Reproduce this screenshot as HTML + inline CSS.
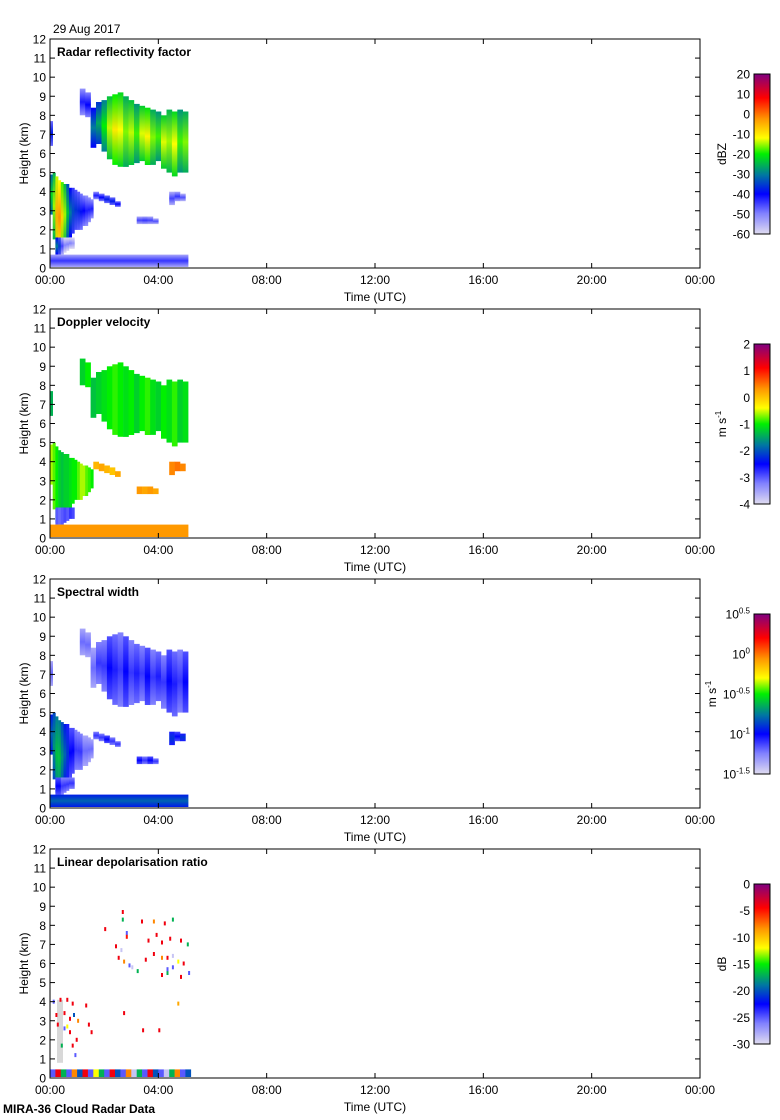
<!DOCTYPE html>
<html><head><meta charset="utf-8"><style>
html,body{margin:0;padding:0;background:#fff;}
svg{display:block;font-family:"Liberation Sans",sans-serif;}
</style></head><body>
<svg id="chart" width="780" height="1120" viewBox="0 0 780 1120" xmlns="http://www.w3.org/2000/svg">
<text x="53" y="33" font-size="12">29 Aug 2017</text>
<text x="3" y="1113" font-size="12" font-weight="bold">MIRA-36 Cloud Radar Data</text>
</svg>
<script>
// ---- data arrays ----
const timeTicks = ["00:00","04:00","08:00","12:00","16:00","20:00","00:00"];
const heightTicks = [0,1,2,3,4,5,6,7,8,9,10,11,12];
const panelTitles = ["Radar reflectivity factor","Doppler velocity","Spectral width","Linear depolarisation ratio"];
const upperT0 = 1.5, upperDt = 0.2;
const upperTop  = [8.4,8.7,8.8,9.0,9.1,9.2,9.0,8.8,8.6,8.5,8.4,8.3,8.2,8.0,8.3,8.2,8.3,8.2];
const upperBase = [6.3,6.5,6.1,5.7,5.4,5.3,5.3,5.4,5.5,5.6,5.4,5.4,5.6,5.2,5.0,4.8,5.0,5.0];
const upperDbz  = [-30,-26,-20,-14,-10,-12,-16,-14,-18,-13,-11,-16,-18,-13,-15,-12,-18,-16];
const upperVel  = [-1.3,-1.2,-1.1,-1.0,-0.9,-1.0,-1.1,-1.0,-1.2,-1.0,-0.9,-1.1,-1.2,-1.0,-1.1,-0.9,-1.2,-1.1];
const upperWid  = [-1.2,-1.1,-1.1,-1.0,-1.05,-1.1,-1.0,-1.1,-1.05,-1.1,-1.0,-1.1,-1.05,-1.1,-1.0,-1.05,-1.1,-1.0];
const highT0 = 1.1, highDt = 0.2;
const highTop = [9.4,9.2], highBase = [8.0,7.9], highDbz = [-42,-40], highVel = [-1.2,-1.0], highWid = [-1.2,-1.2];
const earlyT0 = 0, earlyDt = 0.1;
const earlyTop = [7.7], earlyBase = [6.4], earlyDbz = [-38], earlyVel = [-1.4], earlyWid = [-1.2];
const lowT0 = 0, lowDt = 0.1;
const lowTop  = [4.9,5.0,4.8,4.6,4.5,4.4,4.4,4.2,4.2,4.1,4.0,3.9,3.8,3.8,3.7,3.6];
const lowBase = [2.8,1.5,0.8,0.7,0.8,1.2,1.4,1.6,1.8,2.0,2.0,2.0,2.2,2.2,2.4,2.6];
const lowDbz  = [-22,-15,-4,-2,-8,-15,-24,-30,-34,-36,-37,-39,-40,-42,-42,-42];
const lowVel  = [-0.6,-0.8,-1.0,-1.2,-1.3,-1.2,-1.2,-1.1,-1.0,-1.0,-0.8,-0.6,-0.6,-0.8,-0.9,-1.0];
const lowWid  = [-0.8,-0.7,-0.6,-0.6,-0.7,-0.8,-0.9,-1.0,-1.0,-1.1,-1.1,-1.1,-1.2,-1.2,-1.2,-1.2];
const fallT0 = 0.2, fallDt = 0.1;
const fallTop = [1.6,1.6,1.6,1.6,1.6,1.6,1.6], fallBase = [0.7,0.7,0.7,0.8,0.9,1.0,1.0];
const fallDbz = [-30,-35,-45,-50,-50,-50,-52], fallVel = [-3.0,-3.1,-3.0,-2.9,-3.0,-2.8,-2.9], fallWid = [-1.0,-1.0,-1.1,-1.1,-1.1,-1.1,-1.1];
const bandT0 = 1.6, bandDt = 0.2;
const bandTop = [4.0,3.9,3.8,3.7,3.5], bandBase = [3.6,3.5,3.4,3.3,3.2];
const bandDbz = [-42,-40,-38,-38,-40], bandVel = [0.1,0.2,0.1,0.0,0.2], bandWid = [-1.1,-1.1,-1.0,-1.1,-1.1];
const midT0 = 3.2, midDt = 0.2;
const midTop = [2.7,2.7,2.7,2.6], midBase = [2.3,2.3,2.3,2.3];
const midDbz = [-45,-44,-45,-46], midVel = [0.3,0.2,0.3,0.2], midWid = [-1.0,-1.1,-1.0,-1.1];
const patchT0 = 4.4, patchDt = 0.2;
const patchTop = [4.0,4.0,3.9], patchBase = [3.3,3.5,3.5];
const patchDbz = [-45,-44,-46], patchVel = [0.4,0.5,0.4], patchWid = [-0.9,-1.0,-0.9];
const clutT0 = 0, clutDt = 5.1;
const clutTop = [0.7], clutBase = [0.05], clutDbz = [-44], clutVel = [0.3], clutWid = [-0.8];
const ldrT = [2.65,2.65,3.36,3.8,4.2,4.5,2.0,2.8,2.8,3.6,3.9,4.1,4.4,4.8,5.05,2.4,2.6,2.5,2.7,2.9,3.0,3.2,3.5,3.8,4.1,4.3,4.5,4.7,4.9,4.5,4.1,4.3,4.8,5.1,4.3,4.7,2.7,3.4,4.0,0.1,0.35,0.6,0.8,0.5,0.7,0.85,1.0,1.3,1.4,1.5,0.6,0.5,0.7,0.95,0.4,0.8,0.9,0.25,0.2];
const ldrH = [8.7,8.3,8.2,8.2,8.1,8.3,7.8,7.6,7.4,7.2,7.5,7.1,7.3,7.2,7.0,6.9,6.7,6.3,6.1,5.9,5.8,5.6,6.2,6.5,6.3,6.3,6.4,6.1,6.0,5.8,5.4,5.5,5.3,5.5,5.7,3.9,3.4,2.5,2.5,4.0,4.1,4.1,3.9,3.4,3.1,3.3,3.0,3.8,2.8,2.4,2.7,2.6,2.4,2.0,1.7,1.7,1.2,2.8,3.3];
const ldrV = [-4,-17,-4,-8,-4,-17,-4,-25,-5,-4,-4,-4,-4,-4,-17,-4,-29,-4,-8,-25,-29,-17,-4,-4,-8,-4,-29,-12,-4,-25,-4,-17,-4,-25,-25,-9,-4,-4,-4,-25,-4,-4,-4,-4,-4,-20,-8,-4,-4,-4,-12,-25,-4,-4,-17,-4,-25,-4,-4];
const ldrClutT0 = 0, ldrClutDt = 0.2;
const ldrClutV = [-25,-4,-17,-25,-8,-20,-4,-25,-12,-17,-25,-4,-20,-25,-8,-29,-17,-25,-4,-20,-25,-29,-17,-8,-25,-20];
const ldrGrayT = [0.26], ldrGrayDt = 0.22, ldrGrayBase = [0.8], ldrGrayTop = [4.1];
const cbTicks = [[20,10,0,-10,-20,-30,-40,-50,-60],[2,1,0,-1,-2,-3,-4],["0.5","0","-0.5","-1","-1.5"],[0,-5,-10,-15,-20,-25,-30]];
const cbRange = [[-60,20],[-4,2],[-1.5,0.5],[-30,0]];

// ---- rendering ----
const svg = document.getElementById('chart');
const NS = 'http://www.w3.org/2000/svg';
const PX0 = 50, PX1 = 700, PH = 229;
function panelTop(k){ return 39 + 270*k; }
function xScale(t){ return PX0 + t*(PX1-PX0)/24; }
function yScale(k,h){ return panelTop(k) + PH - h*PH/12; }
const stops = [[0,[224,220,240]],[0.13,[128,128,255]],[0.25,[0,0,255]],[0.37,[0,120,160]],[0.5,[0,240,0]],[0.6,[255,255,0]],[0.72,[255,150,0]],[0.85,[255,0,0]],[1,[128,0,128]]];
function cmap(f){
  f = Math.max(0,Math.min(1,f));
  for(let i=1;i<stops.length;i++){
    if(f<=stops[i][0]){
      const a=stops[i-1],b=stops[i],u=(f-a[0])/(b[0]-a[0]);
      const c=a[1].map((v,j)=>Math.round(v+(b[1][j]-v)*u));
      return 'rgb('+c.join(',')+')';
    }
  }
  return 'rgb(128,0,128)';
}
function mk(tag, attrs, parent){
  const e = document.createElementNS(NS, tag);
  for(const k in attrs) e.setAttribute(k, attrs[k]);
  (parent||svg).appendChild(e);
  return e;
}
const defs = mk('defs',{});
let gid = 0;
function gradFor(cTop, cMid, cBot){
  const g = mk('linearGradient',{id:'g'+(gid++),x1:0,y1:0,x2:0,y2:1},defs);
  mk('stop',{offset:'0','stop-color':cTop},g);
  mk('stop',{offset:'0.5','stop-color':cMid},g);
  mk('stop',{offset:'1','stop-color':cBot},g);
  return 'url(#'+g.id+')';
}
function drawLayer(k, grp, t0, dt, base, top, vals, range, edge){
  for(let i=0;i<vals.length;i++){
    const x = xScale(t0+i*dt), w = xScale(t0+(i+1)*dt)-x;
    const yT = yScale(k, top[i]), yB = yScale(k, base[i]);
    const f = (vals[i]-range[0])/(range[1]-range[0]);
    const fe = (vals[i]+edge-range[0])/(range[1]-range[0]);
    const r = mk('rect',{x:x.toFixed(1),y:yT.toFixed(1),width:(w+0.3).toFixed(1),height:(yB-yT).toFixed(1),fill:gradFor(cmap(fe),cmap(f),cmap(fe))},grp);
    
    
  }
}
const layerSets = [
  [upperT0,upperDt,upperBase,upperTop,[upperDbz,upperVel,upperWid]],
  [highT0,highDt,highBase,highTop,[highDbz,highVel,highWid]],
  [earlyT0,earlyDt,earlyBase,earlyTop,[earlyDbz,earlyVel,earlyWid]],
  [lowT0,lowDt,lowBase,lowTop,[lowDbz,lowVel,lowWid]],
  [fallT0,fallDt,fallBase,fallTop,[fallDbz,fallVel,fallWid]],
  [bandT0,bandDt,bandBase,bandTop,[bandDbz,bandVel,bandWid]],
  [midT0,midDt,midBase,midTop,[midDbz,midVel,midWid]],
  [patchT0,patchDt,patchBase,patchTop,[patchDbz,patchVel,patchWid]],
  [clutT0,clutDt,clutBase,clutTop,[clutDbz,clutVel,clutWid]]
];
const edges = [-10,0,-0.15];
const unitNames = ['dBZ','m s','m s','dB'];

for(let k=0;k<4;k++){
  const top = panelTop(k), bot = top+PH;
  const g = mk('g',{});
  
  
  const data = mk('g',{},g);
  
  
  if(k<3){
    for(const L of layerSets) drawLayer(k, data, L[0], L[1], L[2], L[3], L[4][k], cbRange[k], edges[k]);
  } else {
    for(let i=0;i<ldrClutV.length;i++){
      const x = xScale(ldrClutT0+i*ldrClutDt), w = xScale(ldrClutT0+(i+1)*ldrClutDt)-x;
      const f = (ldrClutV[i]-cbRange[3][0])/(cbRange[3][1]-cbRange[3][0]);
      const r = mk('rect',{x:x.toFixed(1),y:yScale(k,0.45).toFixed(1),width:(w+0.3).toFixed(1),height:(yScale(k,0.05)-yScale(k,0.45)).toFixed(1),fill:cmap(f)},data);
      
      
    }
    for(let i=0;i<ldrGrayT.length;i++){
      const x = xScale(ldrGrayT[i]);
      const r = mk('rect',{x:x.toFixed(1),y:yScale(k,ldrGrayTop[i]).toFixed(1),width:(xScale(ldrGrayT[i]+ldrGrayDt)-x).toFixed(1),height:(yScale(k,ldrGrayBase[i])-yScale(k,ldrGrayTop[i])).toFixed(1),fill:'#d8d8d8'},data);
      
      
    }
    for(let i=0;i<ldrT.length;i++){
      const f = (ldrV[i]-cbRange[3][0])/(cbRange[3][1]-cbRange[3][0]);
      const r = mk('rect',{x:xScale(ldrT[i]).toFixed(1),y:(yScale(k,ldrH[i])-2).toFixed(1),width:2,height:4,fill:cmap(f)},data);
      
      
    }
  }
  const fr = mk('rect',{x:PX0,y:top,width:PX1-PX0,height:PH,fill:'none',stroke:'#000','stroke-width':1},g);
  
  
  for(const h of heightTicks){
    const y = yScale(k,h);
    mk('line',{x1:PX0,x2:PX0+5,y1:y,y2:y,stroke:'#000'},g);
    mk('line',{x1:PX1-5,x2:PX1,y1:y,y2:y,stroke:'#000'},g);
    const t = mk('text',{x:46,y:y+4.5,'font-size':12,'text-anchor':'end'},g);
    t.textContent = h;
    
    
  }
  for(let i=0;i<timeTicks.length;i++){
    const x = xScale(i*4);
    mk('line',{x1:x,x2:x,y1:bot,y2:bot-5,stroke:'#000'},g);
    mk('line',{x1:x,x2:x,y1:top,y2:top+5,stroke:'#000'},g);
    const t = mk('text',{x:x,y:bot+16,'font-size':12,'text-anchor':'middle'},g);
    t.textContent = timeTicks[i];
    
    
  }
  const xt = mk('text',{x:375,y:bot+33,'font-size':12,'text-anchor':'middle'},g);
  xt.textContent = 'Time (UTC)';
  
  
  const yt = mk('text',{x:0,y:0,'font-size':12,'text-anchor':'middle',transform:'translate(28,'+(top+PH/2)+') rotate(-90)'},g);
  yt.textContent = 'Height (km)';
  
  
  const tt = mk('text',{x:57,y:top+17,'font-size':12,'font-weight':'bold'},g);
  tt.textContent = panelTitles[k];
  
  
  const cbTop = top+35, cbH = 160;
  const cg = mk('linearGradient',{id:'cb'+k,x1:0,y1:1,x2:0,y2:0},defs);
  for(const s of stops) mk('stop',{offset:s[0],'stop-color':cmap(s[0])},cg);
  const cb = mk('rect',{x:754,y:cbTop,width:16,height:cbH,fill:'url(#cb'+k+')',stroke:'#000'},g);
  
  
  const ticks = cbTicks[k], n = ticks.length;
  for(let i=0;i<n;i++){
    const y = cbTop + i*cbH/(n-1);
    const t = mk('text',{x:750,y:y+4.5,'font-size':12,'text-anchor':'end'},g);
    if(k===2){
      t.textContent = '10';
      const sp = mk('tspan',{dy:-5,'font-size':8},t);
      sp.textContent = ticks[i];
    } else t.textContent = ticks[i];
    
    
  }
  const ux = k===2 ? 716 : 726;
  const ut = mk('text',{x:0,y:0,'font-size':12,'text-anchor':'middle',transform:'translate('+ux+','+(cbTop+cbH/2)+') rotate(-90)'},g);
  ut.textContent = unitNames[k];
  if(k===1||k===2){ const sp = mk('tspan',{dy:-5,'font-size':8},ut); sp.textContent='-1'; }
  
  
}
</script>
</body></html>
